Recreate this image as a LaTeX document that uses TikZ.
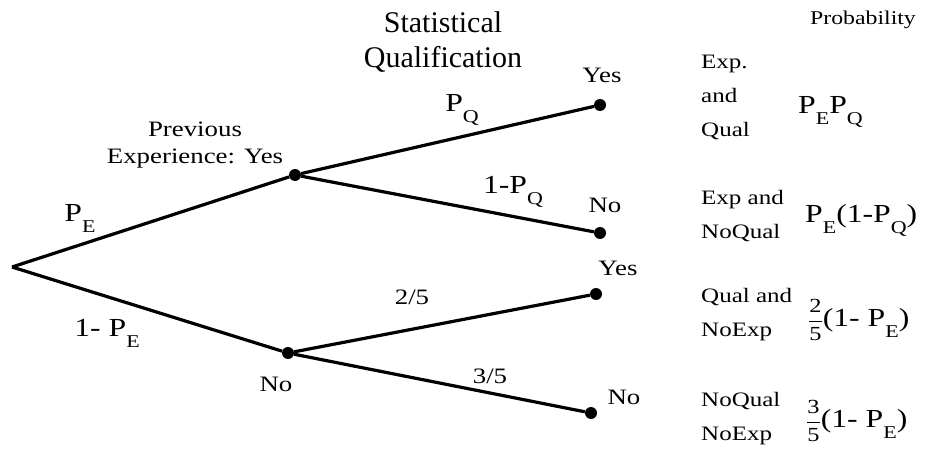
\documentclass[tikz,border=0pt]{standalone}
\usepackage{fontspec}
\setmainfont{Liberation Serif}[FakeStretch=1.22]
\newfontfamily\titlefont{Liberation Serif}
\usepackage{tikz}

% lowered subscript letter, as in the printed labels
\newcommand{\sub}[1]{\raisebox{-11pt}{\fontsize{18}{18}\selectfont #1}}
% stacked fraction in front of the bracket
\newcommand{\share}[2]{{\fontsize{20}{20}\selectfont$\displaystyle\frac{\mbox{#1}}{\mbox{#2}}$}}

\tikzset{
  dot/.style={circle, fill=black, inner sep=0pt, minimum size=12pt},
  branch/.style={line width=3.2pt},
  lbl/.style={inner sep=0pt, font=\fontsize{22}{27}\selectfont, align=center},
  prob/.style={inner sep=0pt, font=\fontsize{26}{30}\selectfont},
  rowtxt/.style={inner sep=0pt, anchor=west, align=left, font=\fontsize{20.5}{34}\selectfont},
}

\begin{document}
\begin{tikzpicture}[x=1pt, y=-1pt]
\useasboundingbox (0,0) rectangle (927,452);

% tree points
\coordinate (root) at (12,267);
\node[dot] (expyes) at (295,175) {};
\node[dot] (expno) at (288,353) {};
\node[dot] (qy1) at (600,105) {};
\node[dot] (qn1) at (600,233) {};
\node[dot] (qy2) at (596,294) {};
\node[dot] (qn2) at (591,413) {};

% branches
\draw[branch] (root) -- (expyes);
\draw[branch] (root) -- (expno);
\draw[branch] (expyes) -- (qy1);
\draw[branch] (expyes) -- (qn1);
\draw[branch] (expno) -- (qy2);
\draw[branch] (expno) -- (qn2);

% branch labels
\node[prob] (pe) at (80,218) {P\sub{E}};
\node[prob] (notpe) at (107,333) {1- P\sub{E}};
\node[prob] (pq) at (462,110) {P\sub{Q}};
\node[prob] (notpq) at (513,192) {1-P\sub{Q}};
\node[lbl] (twofifth) at (412,297) {2/5};
\node[lbl] (threefifth) at (490,376) {3/5};

% outcome labels
\node[lbl] (prev) at (195,145) {Previous\\Experience: Yes};
\node[lbl] (prevno) at (276,384) {No};
\node[lbl] (yes1) at (602,75) {Yes};
\node[lbl] (no1) at (605,205) {No};
\node[lbl] (yes2) at (618,268) {Yes};
\node[lbl] (no2) at (624,397) {No};
\node[inner sep=0pt, align=center, font=\titlefont\fontsize{30}{35}\selectfont] (stat) at (443,42) {Statistical\\Qualification};

% probability column
\node[inner sep=0pt, font=\fontsize{19.5}{22}\selectfont] (probhead) at (863,20) {Probability};
\node[rowtxt] (row1) at (701,97) {Exp.\\and\\Qual};
\node[rowtxt] (row2) at (701,216) {Exp and\\NoQual};
\node[rowtxt] (row3) at (701,315) {Qual and\\NoExp};
\node[rowtxt] (row4) at (701,419) {NoQual\\NoExp};
\node[prob, anchor=west] (val1) at (798,112) {P\sub{E}P\sub{Q}};
\node[prob, anchor=west] (val2) at (805,220) {P\sub{E}(1-P\sub{Q})};
\node[prob, anchor=west] (val3) at (808,320) {\share{2}{5}(1- P\sub{E})};
\node[prob, anchor=west] (val4) at (806,421) {\share{3}{5}(1- P\sub{E})};

\end{tikzpicture}
\end{document}
